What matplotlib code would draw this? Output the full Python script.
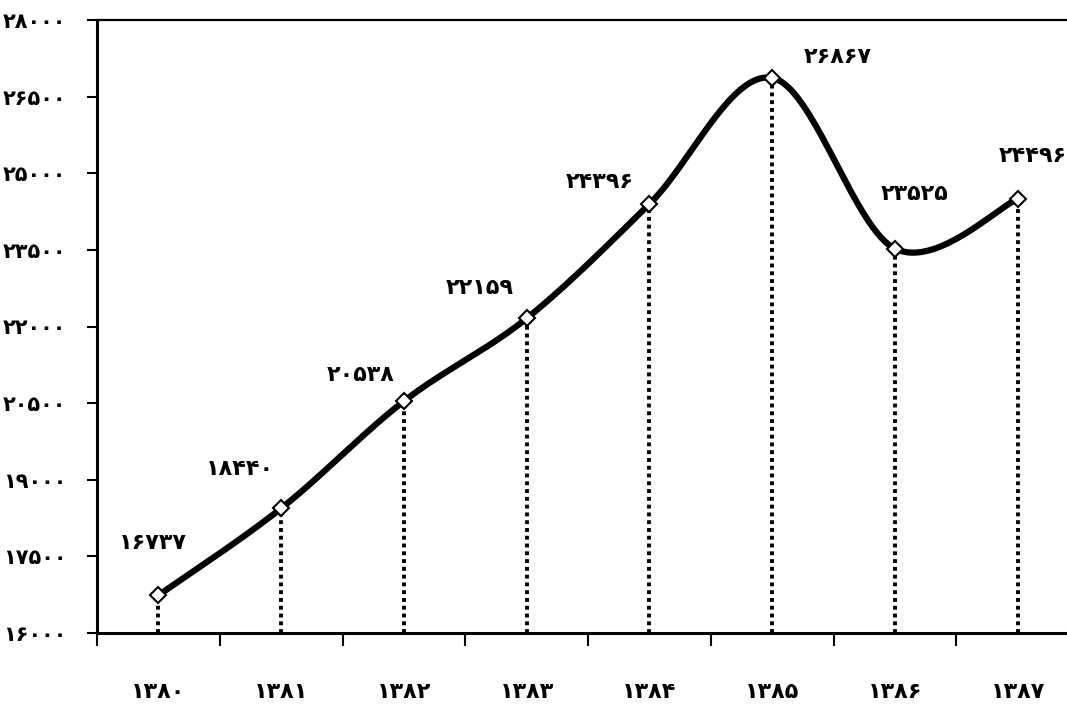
import numpy as np
import matplotlib.pyplot as plt

years = [1380, 1381, 1382, 1383, 1384, 1385, 1386, 1387]
values = [16737, 18440, 20538, 22159, 24396, 26867, 23525, 24496]
y_ticks = list(range(16000, 28001, 1500))

# label offsets in points (dx, dy) from each marker
label_offsets = [(-4, 38), (-30, 28), (-31, 19), (-34, 22), (-36, 16), (47, 15), (14, 39), (11, 31)]

_FA = str.maketrans('0123456789', '۰۱۲۳۴۵۶۷۸۹')


def fa(n):
    return str(n).translate(_FA)


def catmull_rom(x, y, steps=40):
    # uniform catmull-rom, end points duplicated
    px = np.concatenate([[x[0]], x, [x[-1]]])
    py = np.concatenate([[y[0]], y, [y[-1]]])
    xs, ys = [], []
    t = np.linspace(0, 1, steps)
    for i in range(1, len(px) - 2):
        p0, p1, p2, p3 = (np.array([px[j], py[j]], dtype=float) for j in range(i - 1, i + 3))
        m1 = (p2 - p0) / 2.0
        m2 = (p3 - p1) / 2.0
        h00 = 2 * t**3 - 3 * t**2 + 1
        h10 = t**3 - 2 * t**2 + t
        h01 = -2 * t**3 + 3 * t**2
        h11 = t**3 - t**2
        pts = np.outer(h00, p1) + np.outer(h10, m1) + np.outer(h01, p2) + np.outer(h11, m2)
        xs.extend(pts[:, 0])
        ys.extend(pts[:, 1])
    return np.array(xs), np.array(ys)


plt.rcParams['font.family'] = ['DejaVu Sans']
plt.rcParams['font.weight'] = 'bold'

fig = plt.figure(figsize=(10.67, 7.06), dpi=100)
ax = fig.add_axes([97 / 1067, 73 / 706, 982 / 1067, 613 / 706])

xpos = np.arange(len(years))

# dotted drop lines
for x, v in zip(xpos, values):
    ax.plot([x, x], [16000, v], color='black', lw=2.8, linestyle=(0, (1, 1.0)),
            dash_capstyle='butt', zorder=2)

sx, sy = catmull_rom(xpos, np.array(values, dtype=float))
ax.plot(sx, sy, color='black', lw=4.5, solid_capstyle='round', zorder=3)
ax.plot(xpos, values, linestyle='None', marker='D', markersize=8.5,
        markerfacecolor='white', markeredgecolor='black', markeredgewidth=1.5, zorder=4)

for x, v, (dx, dy) in zip(xpos, values, label_offsets):
    ax.annotate(fa(v), (x, v), xytext=(dx, dy), textcoords='offset points',
                ha='center', va='center', fontsize=16, fontweight='bold')

ax.set_xlim(-0.5, len(years) - 0.5)
ax.set_ylim(16000, 28000)

ax.set_yticks(y_ticks)
ax.set_yticklabels([fa(t) for t in y_ticks])
ax.tick_params(axis='y', length=7, width=1.5, pad=15, labelsize=15)

# tick marks between categories, labels centred under them
ax.set_xticks(np.arange(-0.5, len(years), 1.0))
ax.set_xticklabels([])
ax.set_xticks(xpos, minor=True)
ax.set_xticklabels([fa(y) for y in years], minor=True)
ax.tick_params(axis='x', which='major', length=9, width=1.5, direction='out')
ax.tick_params(axis='x', which='minor', length=0, pad=35, labelsize=16)

for side in ['left', 'bottom']:
    ax.spines[side].set_linewidth(2.2)
ax.spines['top'].set_linewidth(1.6)
ax.spines['right'].set_visible(False)

fig.savefig('out.png', dpi=100)
